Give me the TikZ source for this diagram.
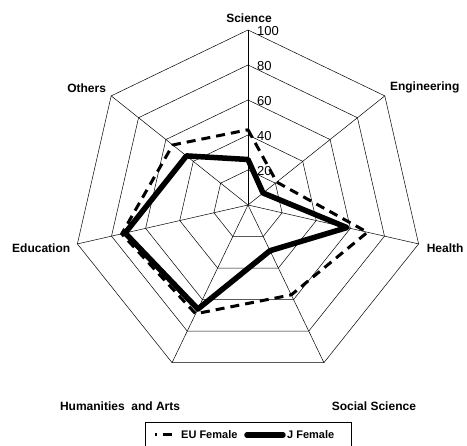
\documentclass[tikz,border=0pt]{standalone}
\usepackage{fontspec}
\setmainfont{Liberation Sans}
\usetikzlibrary{positioning}

\tikzset{
  grid/.style={draw=black, line width=0.5pt},
  axlabel/.style={font=\fontsize{12}{14}\selectfont\bfseries, inner sep=0pt},
  leglabel/.style={font=\fontsize{11}{13}\selectfont\bfseries, inner sep=0pt},
  numlabel/.style={font=\fontsize{13}{15}\selectfont, inner sep=0pt, anchor=west},
  eufemale/.style={line width=3pt, dash pattern=on 9pt off 6pt},
  jfemale/.style={line width=5.5pt, line join=round},
}

\begin{document}
\begin{tikzpicture}[x=1pt,y=1pt]
  \useasboundingbox (-248,-241) rectangle (219,205);
  % Define axes
  \coordinate (o) at (0,0);
  \foreach \i in {0,...,6}
    \coordinate (ax\i) at ({90-\i*360/7}:175);
  % Grid rings and spokes
  \foreach \r in {35,70,...,175}
    \draw[grid] (90:\r) \foreach \i in {1,...,6} {-- ({90-\i*360/7}:\r)} -- cycle;
  \foreach \i in {0,...,6}
    \draw[grid] (o) -- (ax\i);
  % Scale labels
  \foreach \v in {20,40,...,100}
    \node[numlabel, xshift=9pt, yshift=-1pt] (n\v) at (0,{1.75*\v}) {\v};
  % Axis labels
  \node[axlabel, above=7pt of ax0, xshift=1pt]     (science) {Science};
  \node[axlabel, above right=3pt and 5pt of ax1]   (engineering) {Engineering};
  \node[axlabel, right=8pt of ax2, yshift=-4pt]    (health) {Health};
  \node[axlabel, below=39pt of ax3, xshift=50pt]   (social) {Social Science};
  \node[axlabel, below=39pt of ax4, xshift=-52pt]  (humanities) {Humanities\ \ and Arts};
  \node[axlabel, left=7pt of ax5, yshift=-4pt]     (education) {Education};
  \node[axlabel, above left=3pt and 5pt of ax6]    (others) {Others};
  % Data points
  \foreach \v [count=\i from 0] in {43,21,70,57,69,74,55}
    \coordinate (eu\i) at ({90-\i*360/7}:{1.75*\v});
  \foreach \v [count=\i from 0] in {26,11,58,29,66,72,45}
    \coordinate (j\i) at ({90-\i*360/7}:{1.75*\v});
  \draw[eufemale] (eu0) -- (eu1) -- (eu2) -- (eu3) -- (eu4) -- (eu5) -- (eu6) -- cycle;
  \draw[jfemale] (j0) -- (j1) -- (j2) -- (j3) -- (j4) -- (j5) -- (j6) -- cycle;
  % Legend
  \node[grid, minimum width=206pt, minimum height=40pt, anchor=north] (legend) at (0,-217) {};
  \coordinate (eua) at (-93,-230);
  \coordinate (eub) at (-76,-230);
  \draw[eufemale] (eub) -- (eua);
  \node[leglabel, right=9pt of eub] (eutext) {EU Female};
  \coordinate (ja) at (-1,-230);
  \coordinate (jb) at (35,-230);
  \draw[jfemale, line cap=round] (ja) -- (jb);
  \node[leglabel, right=4pt of jb] (jtext) {J Female};
\end{tikzpicture}
\end{document}
